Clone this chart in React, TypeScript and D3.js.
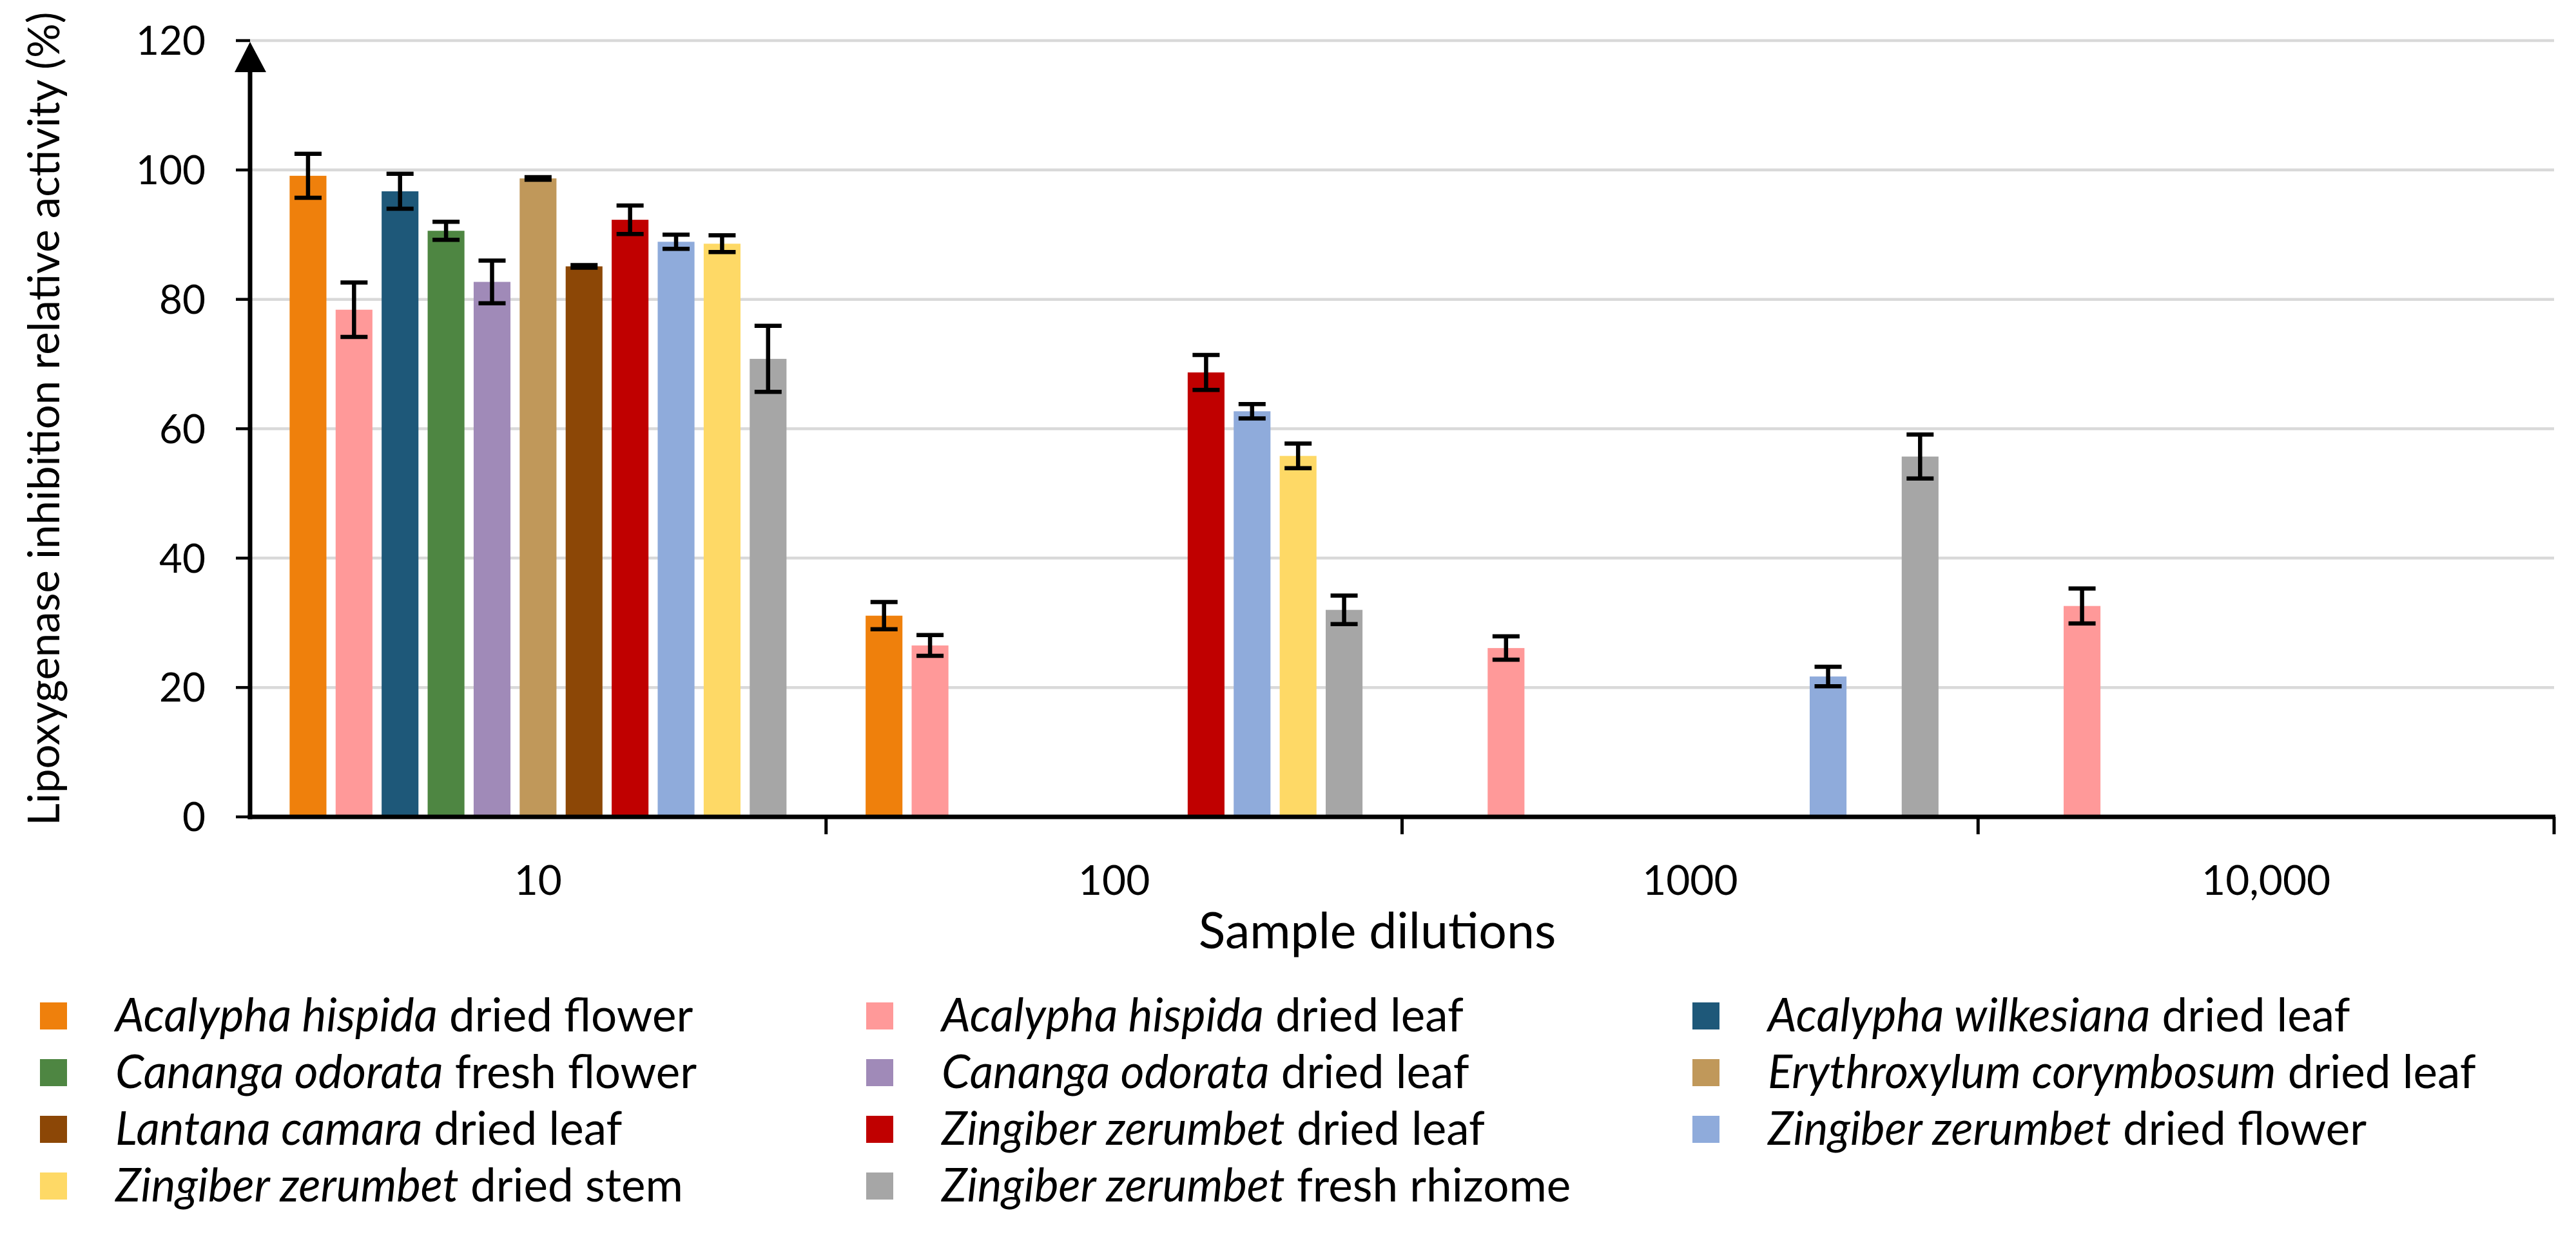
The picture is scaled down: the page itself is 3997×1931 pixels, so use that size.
import { useEffect } from "react";
import * as d3 from "d3";

const width = 3997;
const height = 1931;

// plot box
const plotLeft = 388;
const plotRight = 3963;
const plotTop = 63;
const plotBottom = 1268;

const categories = ["10", "100", "1000", "10,000"];
const yTicks = [0, 20, 40, 60, 80, 100, 120];

// legend labels: italic species name + plain part
const speciesNames = [
    "Acalypha hispida",
    "Acalypha hispida",
    "Acalypha wilkesiana",
    "Cananga odorata",
    "Cananga odorata",
    "Erythroxylum corymbosum",
    "Lantana camara",
    "Zingiber zerumbet",
    "Zingiber zerumbet",
    "Zingiber zerumbet",
    "Zingiber zerumbet",
];
const partNames = [
    "dried flower",
    "dried leaf",
    "dried leaf",
    "fresh flower",
    "dried leaf",
    "dried leaf",
    "dried leaf",
    "dried leaf",
    "dried flower",
    "dried stem",
    "fresh rhizome",
];
const seriesColors = [
    "#EF800C",
    "#FF9999",
    "#1E5879",
    "#4E8642",
    "#A08AB8",
    "#C0985A",
    "#8C4706",
    "#C00000",
    "#8FABDB",
    "#FED966",
    "#A6A6A6",
];

// one row per series, one value per dilution (null = not measured)
const seriesValues = [
    [99.1, 31.1, null, null],
    [78.4, 26.5, 26.1, 32.6],
    [96.7, null, null, null],
    [90.6, null, null, null],
    [82.7, null, null, null],
    [98.7, null, null, null],
    [85.1, null, null, null],
    [92.3, 68.7, null, null],
    [88.9, 62.7, 21.7, null],
    [88.6, 55.8, null, null],
    [70.8, 32.0, 55.7, null],
];
const seriesErrors = [
    [3.4, 2.1, null, null],
    [4.2, 1.6, 1.8, 2.7],
    [2.7, null, null, null],
    [1.4, null, null, null],
    [3.3, null, null, null],
    [0.2, null, null, null],
    [0.2, null, null, null],
    [2.2, 2.7, null, null],
    [1.1, 1.1, 1.5, null],
    [1.3, 1.9, null, null],
    [5.1, 2.2, 3.4, null],
];

const font = "Lato, 'Open Sans', sans-serif";

const App = () => {
    useEffect(() => {
        document.body.style.margin = "0";
    }, []);

    const x0 = d3.scaleBand<string>().domain(categories).range([plotLeft, plotRight]);
    const x1 = d3
        .scaleBand<number>()
        .domain(d3.range(speciesNames.length))
        .range([0, x0.bandwidth()])
        .paddingInner(0.2)
        .paddingOuter(0.86);
    const y = d3.scaleLinear().domain([0, 120]).range([plotBottom, plotTop]);

    const capHalf = 21;
    const xTickPos = categories.map((c) => (x0(c) as number) + x0.bandwidth());

    return (
        <svg width={width} height={height} style={{ display: "block", background: "#fff" }} fontFamily={font}>
            {/* gridlines */}
            <g>
                {yTicks.map((t) => (
                    <line key={t} x1={plotLeft} x2={plotRight} y1={y(t)} y2={y(t)} stroke="#d9d9d9" strokeWidth={4.5} />
                ))}
            </g>

            {/* bars */}
            <g>
                {seriesValues.map((vals, s) =>
                    vals.map((v, ci) =>
                        v == null ? null : (
                            <rect
                                key={`${s}-${ci}`}
                                x={(x0(categories[ci]) as number) + (x1(s) as number)}
                                y={y(v)}
                                width={x1.bandwidth()}
                                height={y(0) - y(v)}
                                fill={seriesColors[s]}
                            />
                        )
                    )
                )}
            </g>

            {/* error bars */}
            <g stroke="#000" strokeWidth={6.5} fill="none">
                {seriesValues.map((vals, s) =>
                    vals.map((v, ci) => {
                        const e = seriesErrors[s][ci];
                        if (v == null || e == null) return null;
                        const cx = (x0(categories[ci]) as number) + (x1(s) as number) + x1.bandwidth() / 2;
                        const yHi = y(v + e);
                        const yLo = y(v - e);
                        return (
                            <path
                                key={`e${s}-${ci}`}
                                d={`M${cx},${yHi}V${yLo}M${cx - capHalf},${yHi}H${cx + capHalf}M${cx - capHalf},${yLo}H${cx + capHalf}`}
                            />
                        );
                    })
                )}
            </g>

            {/* y axis */}
            <g>
                {yTicks.map((t) => (
                    <line key={t} x1={plotLeft - 22} x2={plotLeft} y1={y(t)} y2={y(t)} stroke="#000" strokeWidth={4.5} />
                ))}
                <line x1={plotLeft} x2={plotLeft} y1={plotBottom + 3.5} y2={plotTop + 40} stroke="#000" strokeWidth={7} />
                <polygon
                    points={`${plotLeft - 24},${plotTop + 49} ${plotLeft + 25},${plotTop + 49} ${plotLeft},${plotTop + 2}`}
                    fill="#000"
                />
                {yTicks.map((t) => (
                    <text key={t} x={319} y={y(t)} dy="0.36em" textAnchor="end" fontSize={62} fill="#000">
                        {t}
                    </text>
                ))}
            </g>

            {/* x axis */}
            <g>
                <line x1={plotLeft - 3.5} x2={plotRight + 2} y1={y(0)} y2={y(0)} stroke="#000" strokeWidth={7} />
                {xTickPos.map((xp, i) => (
                    <line key={i} x1={xp} x2={xp} y1={y(0)} y2={y(0) + 27} stroke="#000" strokeWidth={5} />
                ))}
                {categories.map((c) => (
                    <text key={c} x={(x0(c) as number) + x0.bandwidth() / 2} y={1389} textAnchor="middle" fontSize={64} fill="#000">
                        {c}
                    </text>
                ))}
            </g>

            {/* axis titles */}
            <text x={2137} y={1472} textAnchor="middle" fontSize={77} fill="#000">
                Sample dilutions
            </text>
            <text
                transform="translate(92,650) rotate(-90)"
                textAnchor="middle"
                fontSize={67}
                fill="#000"
            >
                Lipoxygenase inhibition relative activity (%)
            </text>

            {/* legend */}
            <g>
                {speciesNames.map((name, i) => {
                    const col = i % 3;
                    const row = Math.floor(i / 3);
                    const lx = 62 + col * 1282;
                    const ly = 1556 + row * 88;
                    return (
                        <g key={i}>
                            <rect x={lx} y={ly} width={42} height={42} fill={seriesColors[i]} />
                            <text x={lx + 117} y={ly + 45} fontSize={71} fill="#000">
                                <tspan fontStyle="italic">{name}</tspan> {partNames[i]}
                            </text>
                        </g>
                    );
                })}
            </g>
        </svg>
    );
};

export default App;
